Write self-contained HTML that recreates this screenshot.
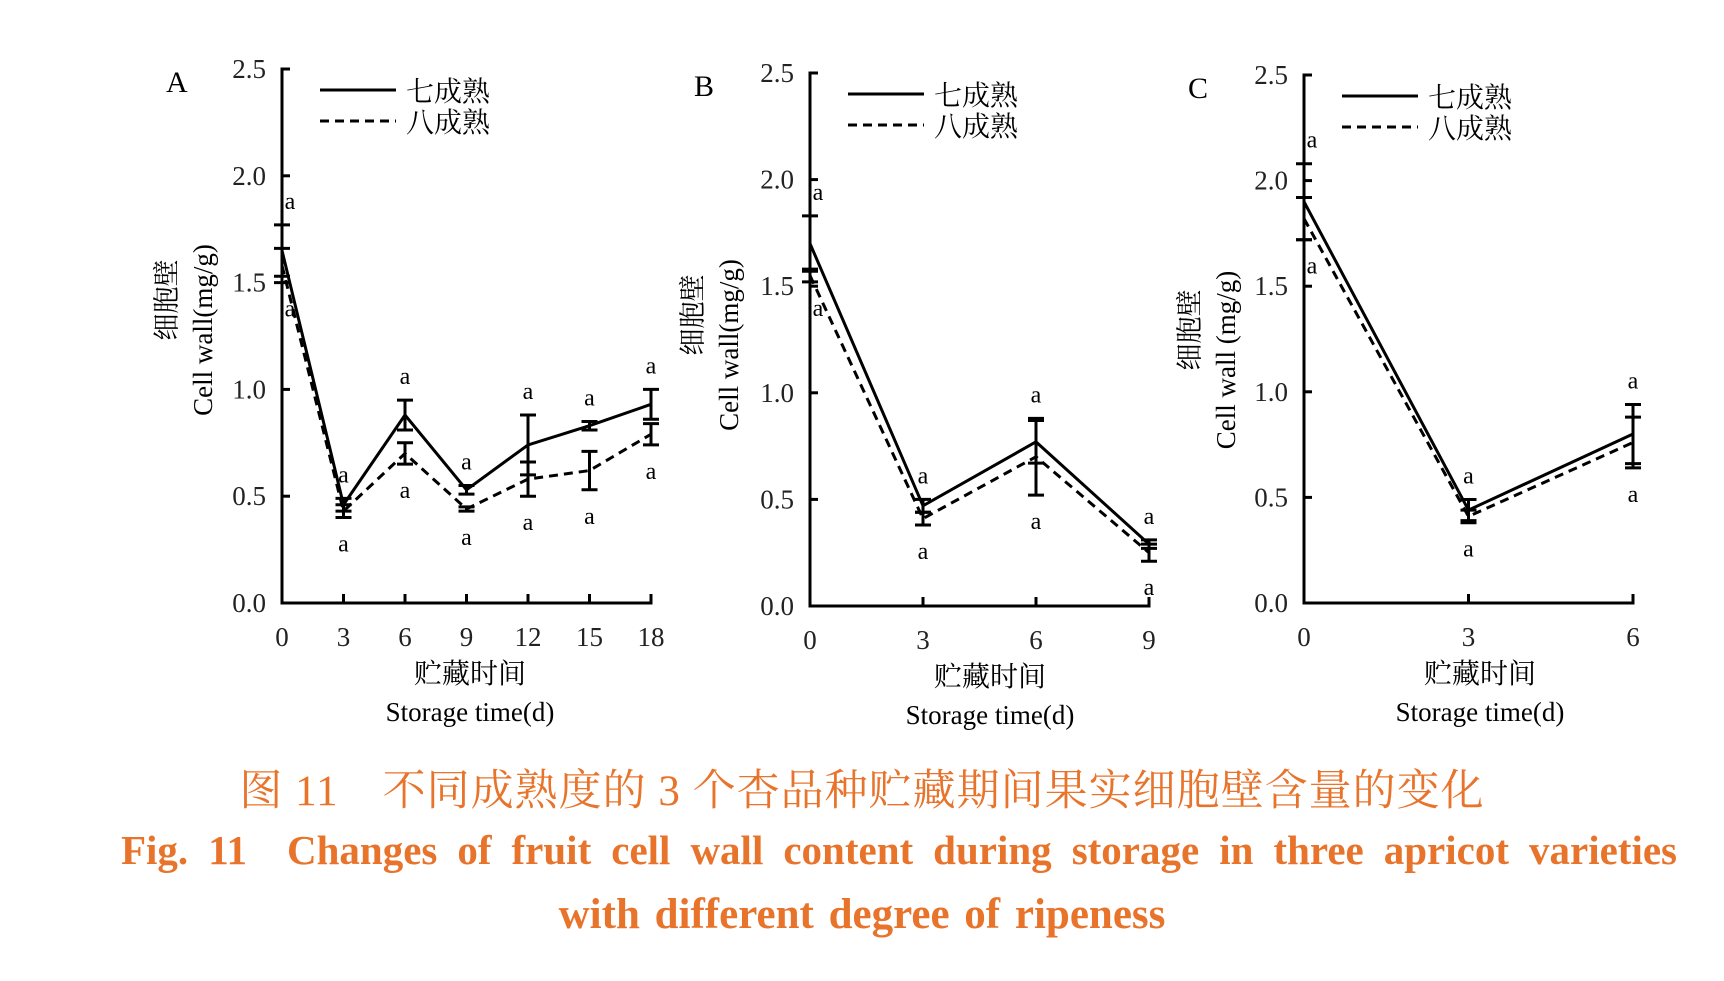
<!DOCTYPE html>
<html><head><meta charset="utf-8"><style>
body{margin:0;background:#fff;width:1724px;height:981px;overflow:hidden;position:relative}
.cap{position:absolute;color:#e8742c;font-family:"Liberation Serif","Noto Serif CJK SC",serif;}
</style></head><body>
<svg id="fig" width="1724" height="981" style="position:absolute;left:0;top:0"></svg>
<div class="cap" style="left:0;width:1724px;top:757px;text-align:center;font-size:43px;letter-spacing:1px">图 11　不同成熟度的 3 个杏品种贮藏期间果实细胞壁含量的变化</div>
<div class="cap" style="left:121px;width:1556px;top:826px;font-size:41px;font-weight:bold;text-align:justify;text-align-last:justify;white-space:nowrap;">Fig. 11&nbsp; Changes of fruit cell wall content during storage in three apricot varieties</div>
<div class="cap" style="left:0;width:1724px;top:890px;font-size:43px;font-weight:bold;text-align:center;word-spacing:4px">with different degree of ripeness</div>
<script>
const daysA=[0,3,6,9,12,15,18], solidA=[1.65,0.46,0.88,0.53,0.74,0.83,0.93], solidErrA=[0.12,0.03,0.07,0.02,0.14,0.02,0.07], dashA=[1.58,0.43,0.70,0.44,0.58,0.62,0.79], dashErrA=[0.08,0.03,0.05,0.01,0.08,0.09,0.05];
const daysB=[0,3,6,9], solidB=[1.70,0.47,0.77,0.29], solidErrB=[0.13,0.03,0.10,0.02], dashB=[1.55,0.41,0.70,0.25], dashErrB=[0.03,0.03,0.18,0.04];
const daysC=[0,3,6], solidC=[1.90,0.44,0.80], solidErrC=[0.18,0.05,0.14], dashC=[1.82,0.41,0.76], dashErrC=[0.10,0.03,0.12];
const yTicks=["0.0","0.5","1.0","1.5","2.0","2.5"];
const panels=[
 {id:"a",label:"A",days:daysA,s:solidA,se:solidErrA,d:dashA,de:dashErrA,x0:282,x1:651,y0:603,y1:69,xmax:18,ytitle:"Cell wall(mg/g)",tx1:167,tx2:203,tcy:330,xc:470},
 {id:"b",label:"B",days:daysB,s:solidB,se:solidErrB,d:dashB,de:dashErrB,x0:810,x1:1149,y0:606,y1:73,xmax:9,ytitle:"Cell wall(mg/g)",tx1:693,tx2:729,tcy:345,xc:990},
 {id:"c",label:"C",days:daysC,s:solidC,se:solidErrC,d:dashC,de:dashErrC,x0:1304,x1:1633,y0:603,y1:75,xmax:6,ytitle:"Cell wall (mg/g)",tx1:1190,tx2:1226,tcy:360,xc:1480}
];
const NS="http://www.w3.org/2000/svg", svg=document.getElementById('fig');
function el(t,a,txt,p){const e=document.createElementNS(NS,t);for(const k in a)e.setAttribute(k,a[k]);if(txt!=null)e.textContent=txt;(p||svg).appendChild(e);return e;}
const F='"Liberation Serif","Noto Serif CJK SC",serif';
panels.forEach(P=>{
 const g=el('g',{});
 
 
 const X=v=>P.x0+(P.x1-P.x0)*v/P.xmax, Y=v=>P.y0-(P.y0-P.y1)*v/2.5;
 const ax=el('path',{d:`M${P.x0+8},${P.y1}H${P.x0}V${P.y0}H${P.x1}V${P.y0-9}`,fill:'none',stroke:'#000','stroke-width':3},null,g);
 
 
 yTicks.forEach((t,i)=>{const v=+t;el('line',{x1:P.x0,x2:P.x0+8,y1:Y(v),y2:Y(v),stroke:'#000','stroke-width':3},null,g);
  const tl=el('text',{x:P.x0-16,y:Y(v)+9,'text-anchor':'end','font-size':27,'font-family':F,fill:'#222'},t,g);
  
  });
 P.days.forEach(d=>{el('line',{x1:X(d),x2:X(d),y1:P.y0,y2:P.y0-9,stroke:'#000','stroke-width':3},null,g);
  const tl=el('text',{x:X(d),y:P.y0+43,'text-anchor':'middle','font-size':27,'font-family':F,fill:'#222'},String(d),g);
  
  });
 [[P.s,P.se,null,'solid-series'],[P.d,P.de,'9,6','dashed-series']].forEach(([v,e,da,nm])=>{
  const pts=P.days.map((d,i)=>X(d)+','+Y(v[i])).join(' ');
  const l=el('polyline',{points:pts,fill:'none',stroke:'#000','stroke-width':3},null,g);
  if(da)l.setAttribute('stroke-dasharray',da);
  
  
  P.days.forEach((d,i)=>{const x=X(d),a=Y(v[i]+e[i]),b=Y(v[i]-e[i]);
   const eb=el('path',{d:`M${x},${a}V${b}M${x-8},${a}H${x+8}M${x-8},${b}H${x+8}`,stroke:'#000','stroke-width':3,fill:'none'},null,g);
   
   });
 });
 P.days.forEach((d,i)=>{const hi=Math.max(P.s[i]+P.se[i],P.d[i]+P.de[i]),lo=Math.min(P.s[i]-P.se[i],P.d[i]-P.de[i]);
  const dx=d===0?8:0;
  const t1=el('text',{x:X(d)+dx,y:Y(hi)-16,'text-anchor':'middle','font-size':24,'font-family':F},'a',g);
  
  
  const t2=el('text',{x:X(d)+dx,y:Y(lo)+34,'text-anchor':'middle','font-size':24,'font-family':F},'a',g);
  
  });
 const pl=el('text',{x:P.x0-116,y:P.y1+23,'font-size':30,'font-family':F},P.label,g);
 
 
 const lx=P.x0+38;
 el('line',{x1:lx,x2:lx+76,y1:P.y1+21,y2:P.y1+21,stroke:'#000','stroke-width':3},null,g);
 el('line',{x1:lx,x2:lx+76,y1:P.y1+52,y2:P.y1+52,stroke:'#000','stroke-width':3,'stroke-dasharray':'9,6'},null,g);
 const l1=el('text',{x:lx+86,y:P.y1+32,'font-size':28,'font-family':F},'七成熟',g);
 
 
 const l2=el('text',{x:lx+86,y:P.y1+63,'font-size':28,'font-family':F},'八成熟',g);
 
 
 const x1=el('text',{x:P.xc,y:P.y0+80,'text-anchor':'middle','font-size':28,'font-family':F},'贮藏时间',g);
 
 
 const x2=el('text',{x:P.xc,y:P.y0+118,'text-anchor':'middle','font-size':27,'font-family':F},'Storage time(d)',g);
 
 
 const y1=el('text',{x:P.tx1,y:P.tcy-30,'text-anchor':'middle','font-size':27,'font-family':F,transform:`rotate(-90 ${P.tx1} ${P.tcy-30})`,'dominant-baseline':'central'},'细胞壁',g);
 
 
 const y2=el('text',{x:P.tx2,y:P.tcy,'text-anchor':'middle','font-size':27,'font-family':F,transform:`rotate(-90 ${P.tx2} ${P.tcy})`,'dominant-baseline':'central'},P.ytitle,g);
 
 
});
</script>
</body></html>
